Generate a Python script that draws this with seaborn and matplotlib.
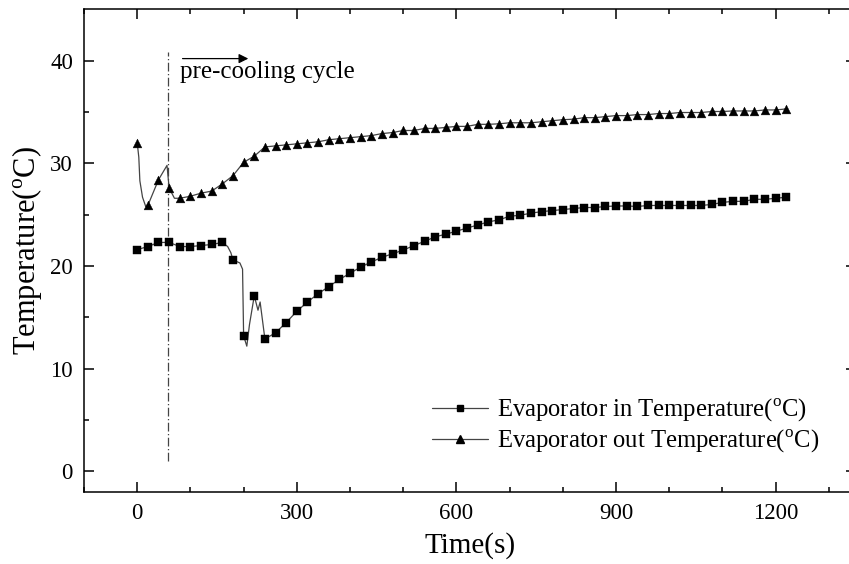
import numpy as np
import pandas as pd
import seaborn as sns
import matplotlib.pyplot as plt
from matplotlib.lines import Line2D

# time of the plotted symbols (s)
time_s = np.arange(0, 1240, 20)

# Evaporator in temperature at the symbols (C)
evap_in = [21.6, 21.9, 22.3, 22.3, 21.9, 21.9, 22.0, 22.1, 22.3, 20.6,
           13.2, 17.1, 12.9, 13.5, 14.5, 15.6, 16.5, 17.3, 18.0, 18.7,
           19.3, 19.9, 20.4, 20.85, 21.2,
           21.55, 22.0, 22.4, 22.85, 23.1, 23.4, 23.7, 24.0, 24.3, 24.5,
           24.85, 24.95, 25.15, 25.3, 25.4, 25.5, 25.6, 25.7, 25.7, 25.8,
           25.85, 25.85, 25.8, 25.9, 25.9, 25.9, 25.9, 25.9, 25.9, 26.0,
           26.2, 26.3, 26.3, 26.5, 26.5, 26.6, 26.7]

# Evaporator out temperature at the symbols (C)
evap_out = [32.0, 25.9, 28.4, 27.6, 26.6, 26.8, 27.1, 27.3, 28.0, 28.8,
            30.1, 30.7, 31.6, 31.7, 31.8, 31.9, 32.0, 32.1, 32.3, 32.4,
            32.5, 32.6, 32.7, 32.9, 33.0,
            33.2, 33.2, 33.4, 33.4, 33.5, 33.6, 33.6, 33.8, 33.8, 33.85,
            33.95, 33.95, 33.95, 34.05, 34.15, 34.25, 34.3, 34.45, 34.45, 34.55,
            34.65, 34.65, 34.75, 34.75, 34.85, 34.85, 34.95, 34.95, 34.95, 35.05,
            35.05, 35.1, 35.1, 35.1, 35.2, 35.2, 35.3]

# extra recorded points between symbols (line only)
in_extra_t = [170, 176, 193, 198, 206, 211, 227, 231]
in_extra_v = [21.9, 21.3, 20.3, 19.7, 12.2, 14.3, 15.7, 16.5]
out_extra_t = [3, 5, 10, 16, 56, 70]
out_extra_v = [30.6, 28.3, 26.7, 25.8, 29.8, 26.6]

labels = ['Evaporator in Temperature($^{\\rm o}$C)',
          'Evaporator out Temperature($^{\\rm o}$C)']
marker_time = 58
arrow_from, arrow_to = 80, 214

sns.set_style('ticks')
plt.rcParams['font.family'] = ['Liberation Serif', 'DejaVu Serif']
plt.rcParams['mathtext.fontset'] = 'custom'
plt.rcParams['mathtext.rm'] = 'Liberation Serif'
for k in ['text.color', 'axes.labelcolor', 'xtick.color', 'ytick.color', 'axes.edgecolor']:
    plt.rcParams[k] = 'black'

line_in = pd.DataFrame({'t': np.r_[time_s, in_extra_t], 'v': np.r_[evap_in, in_extra_v]}).sort_values('t')
line_out = pd.DataFrame({'t': np.r_[time_s, out_extra_t], 'v': np.r_[evap_out, out_extra_v]}).sort_values('t')

fig = plt.figure(figsize=(8.49, 5.64), dpi=100)
ax = fig.add_axes([84 / 849, 1 - 492 / 564, 771.5 / 849, 482.7 / 564])

lc = '#444444'
sns.lineplot(data=line_in, x='t', y='v', color=lc, lw=0.9, sort=False, ax=ax)
sns.lineplot(data=line_out, x='t', y='v', color=lc, lw=0.9, sort=False, ax=ax)
sns.scatterplot(x=time_s, y=evap_in, marker='s', s=27, color='k', edgecolor='k', linewidth=0.3, ax=ax, zorder=3)
sns.scatterplot(x=time_s, y=evap_out, marker='^', s=40, color='k', edgecolor='k', linewidth=0.3, ax=ax, zorder=3)

ax.plot([marker_time, marker_time], [1, 40.8], color='#444444', lw=0.9, ls=(0, (7, 2, 1, 2)))
ax.annotate('', xy=(arrow_to, 40.2), xytext=(arrow_from, 40.2),
            arrowprops=dict(arrowstyle='-|>', color='k', lw=0.9, mutation_scale=14))
ax.text(arrow_from, 38.3, 'pre-cooling cycle', fontsize=18, va='baseline', ha='left')

ax.set_xlim(-100, 1350)
ax.set_ylim(-2, 45)
ax.set_xticks([0, 300, 600, 900, 1200])
ax.set_xticks(np.arange(-100, 1350, 100), minor=True)
ax.set_yticks([0, 10, 20, 30, 40])
ax.set_yticks(np.arange(5, 45, 10), minor=True)
ax.tick_params(which='both', direction='in', top=True, right=True, width=1.1, labelsize=16.5, pad=8)
ax.tick_params(which='major', length=7)
ax.tick_params(which='minor', length=3.5)
for s in ax.spines.values():
    s.set_linewidth(1.1)

ax.set_xlabel('Time(s)', fontsize=21, labelpad=6)
ax.set_ylabel('Temperature($^{\\rm o}$C)', fontsize=22, labelpad=4)

handles = [Line2D([], [], color=lc, lw=0.9, marker='s', ms=5, mfc='k', mec='k'),
           Line2D([], [], color=lc, lw=0.9, marker='^', ms=6, mfc='k', mec='k')]
ax.legend(handles, labels, loc='center left', bbox_to_anchor=(0.451, 0.137), frameon=False,
          fontsize=17.7, handlelength=2.3, handletextpad=0.35, borderpad=0, borderaxespad=0,
          labelspacing=0.15)

fig.savefig('out.png', dpi=100)
